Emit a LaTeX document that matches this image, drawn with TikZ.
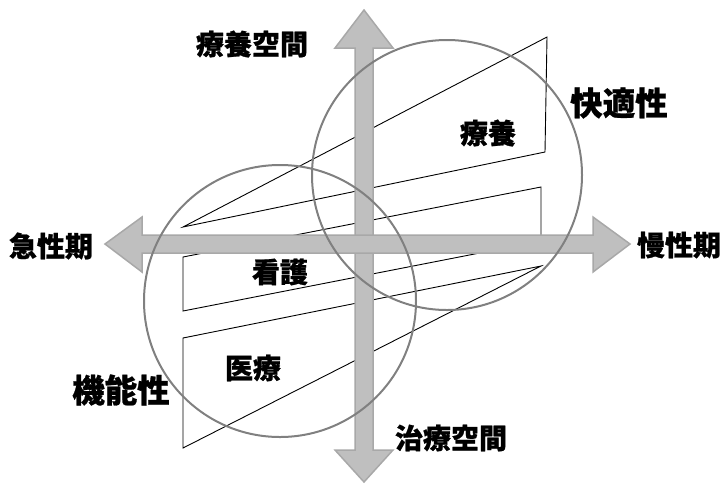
\documentclass[tikz,border=0pt]{standalone}
\usepackage{fontspec}
\newfontfamily\jp{Noto Sans CJK JP}[BoldFeatures={FakeBold=0.8}]
\definecolor{arrowfill}{HTML}{BFBFBF}
\definecolor{arrowline}{HTML}{A8A8A8}
\definecolor{ringgray}{HTML}{808080}
\begin{document}
\begin{tikzpicture}[x=1pt,y=-1pt,
  arrowshape/.style={fill=arrowfill, draw=arrowline, line width=1.5pt, line join=miter},
  ring/.style={draw=ringgray, line width=2pt},
  poly/.style={draw=black, line width=0.9pt, line join=miter},
  lbl/.style={font=\jp\bfseries\fontsize{28}{28}\selectfont, inner sep=0pt},
  biglbl/.style={font=\jp\bfseries\fontsize{32.5}{32.5}\selectfont, inner sep=0pt}]
\useasboundingbox (0,0) rectangle (720,483);
% black outlines
\draw[poly] (183,227) -- (547,37) -- (545,152) -- cycle;
\draw[poly] (183,257) -- (541,187) -- (541,241) -- (183,311) -- cycle;
\draw[poly] (183,338) -- (541,266) -- (183,448) -- cycle;
% vertical arrow
\draw[arrowshape] (355,48) -- (335,48) -- (364,10) -- (393,48) -- (373,48) -- (373,450)
  -- (393,450) -- (364,482) -- (335,450) -- (355,450) -- cycle;
% horizontal arrow
\draw[arrowshape] (142,235) -- (142,217) -- (105,244) -- (142,272) -- (142,253) -- (593,253)
  -- (593,272) -- (630,244) -- (593,217) -- (593,235) -- cycle;
% circles
\coordinate (cu) at (447,175);
\coordinate (cl) at (280,301);
\draw[ring] (cu) circle[radius=135];
\draw[ring] (cl) circle[radius=136];
% labels
\node[lbl] (ryoyokukan) at (252,44) {療養空間};
\node[biglbl] (kaiteki) at (619,103) {快適性};
\node[lbl] (ryoyo) at (488,133) {療養};
\node[lbl] (kyusei) at (51,246) {急性期};
\node[lbl] (mansei) at (679,245) {慢性期};
\node[lbl] (kango) at (280,272) {看護};
\node[biglbl] (kinou) at (121,390) {機能性};
\node[lbl] (iryo) at (253,368) {医療};
\node[lbl] (chiryo) at (451,438) {治療空間};
\end{tikzpicture}
\end{document}
